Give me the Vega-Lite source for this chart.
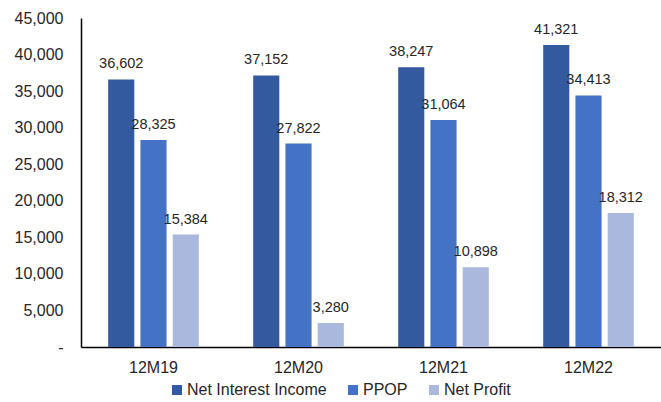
{
  "$schema": "https://vega.github.io/schema/vega-lite/v6.json",
  "width": 580,
  "height": 329,
  "autosize": {"type": "none"},
  "padding": {"left": 81, "top": 18, "right": 0, "bottom": 55},
  "background": "white",
  "config": {
    "view": {"stroke": null},
    "font": "Liberation Sans",
    "axis": {"grid": false, "ticks": false, "domainColor": "#000000", "domainWidth": 1.5, "labelColor": "#262626", "labelFont": "Liberation Sans", "labelFontSize": 16}
  },
  "data": {
    "values": [
      {"period": "12M19", "series": "Net Interest Income", "value": 36602},
      {"period": "12M19", "series": "PPOP", "value": 28325},
      {"period": "12M19", "series": "Net Profit", "value": 15384},
      {"period": "12M20", "series": "Net Interest Income", "value": 37152},
      {"period": "12M20", "series": "PPOP", "value": 27822},
      {"period": "12M20", "series": "Net Profit", "value": 3280},
      {"period": "12M21", "series": "Net Interest Income", "value": 38247},
      {"period": "12M21", "series": "PPOP", "value": 31064},
      {"period": "12M21", "series": "Net Profit", "value": 10898},
      {"period": "12M22", "series": "Net Interest Income", "value": 41321},
      {"period": "12M22", "series": "PPOP", "value": 34413},
      {"period": "12M22", "series": "Net Profit", "value": 18312}
    ]
  },
  "encoding": {
    "x": {
      "field": "period", "type": "nominal", "title": null,
      "scale": {"paddingInner": 0.375, "paddingOuter": 0.1875},
      "axis": {"labelAngle": 0, "labelPadding": 12}
    },
    "xOffset": {
      "field": "series", "type": "nominal",
      "sort": ["Net Interest Income", "PPOP", "Net Profit"],
      "scale": {"paddingInner": 0.19, "paddingOuter": 0}
    },
    "y": {
      "field": "value", "type": "quantitative", "title": null,
      "scale": {"domain": [0, 45000], "nice": false},
      "axis": {"values": [0, 5000, 10000, 15000, 20000, 25000, 30000, 35000, 40000, 45000], "labelPadding": 18, "labelExpr": "datum.value == 0 ? '-' : format(datum.value, ',')"}
    }
  },
  "layer": [
    {
      "mark": {"type": "bar"},
      "encoding": {
        "color": {
          "field": "series", "type": "nominal",
          "sort": ["Net Interest Income", "PPOP", "Net Profit"],
          "scale": {"domain": ["Net Interest Income", "PPOP", "Net Profit"], "range": ["#335A9F", "#4472C4", "#A9B8DC"]},
          "legend": {
            "title": null, "orient": "none", "direction": "horizontal",
            "legendX": 88, "legendY": 364,
            "symbolType": "square", "symbolSize": 100, "symbolStrokeWidth": 0,
            "labelFontSize": 16, "labelColor": "#262626", "labelFont": "Liberation Sans",
            "columnPadding": 18, "labelOffset": 2
          }
        }
      }
    },
    {
      "mark": {"type": "text", "baseline": "bottom", "dy": -8, "fontSize": 14.5, "color": "#262626"},
      "encoding": {
        "text": {"field": "value", "type": "quantitative", "format": ","}
      }
    }
  ]
}
